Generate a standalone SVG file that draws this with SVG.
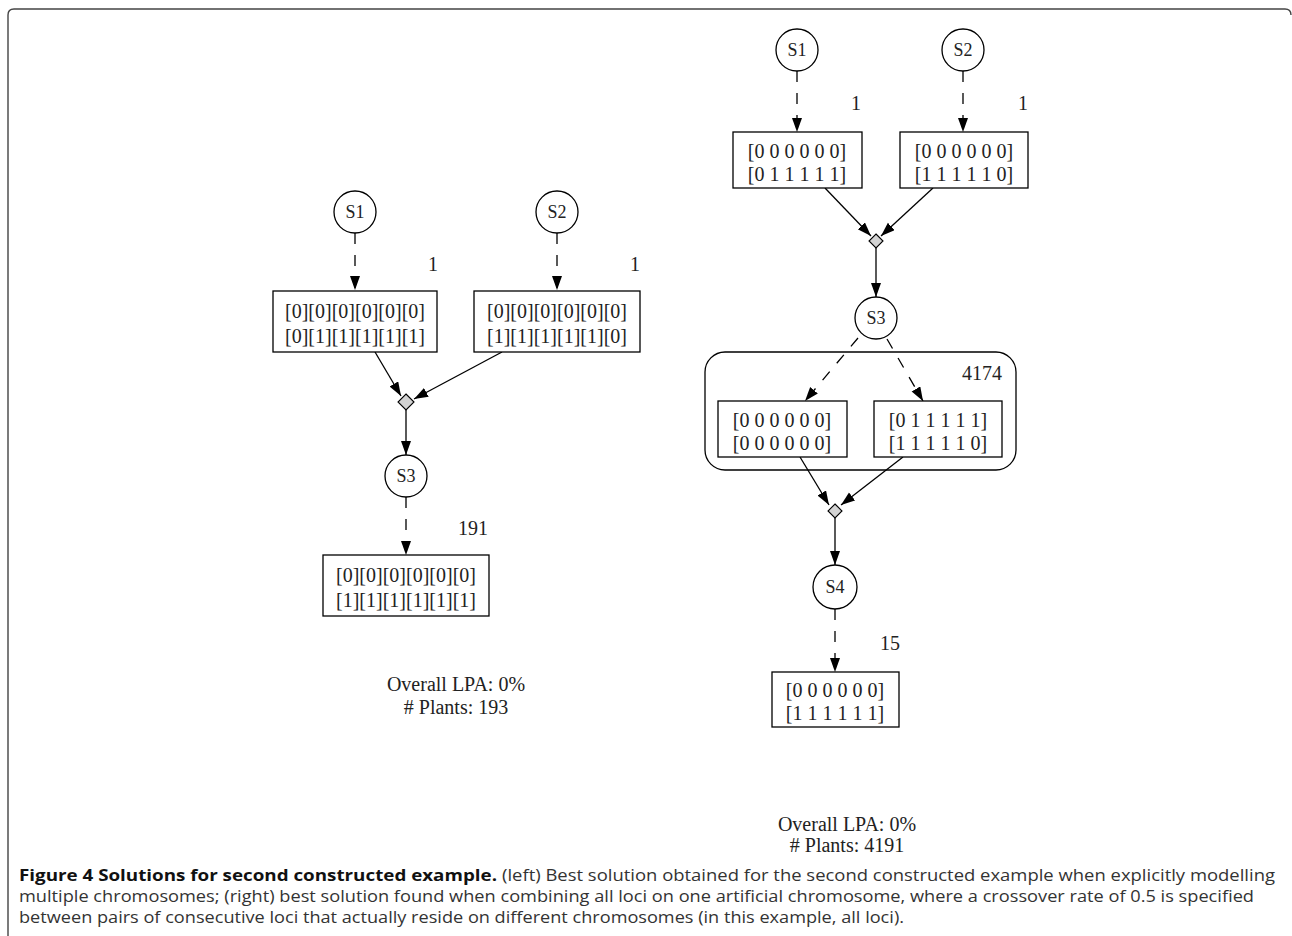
<svg xmlns="http://www.w3.org/2000/svg" width="1292" height="936" viewBox="0 0 1292 936">
<style>
.node circle{fill:#fff;stroke:#000;stroke-width:1.3}
.node rect{fill:#fff;stroke:#000;stroke-width:1.3}
.node polygon{fill:#d3d3d3;stroke:#000;stroke-width:1.1}
.t{font-family:"Liberation Serif","Times New Roman",serif;font-size:20px;fill:#222;text-anchor:middle}
.s{font-family:"Liberation Serif","Times New Roman",serif;font-size:18px;fill:#222;text-anchor:middle}
.e{fill:none;stroke:#000;stroke-width:1.3}
.d{stroke-dasharray:11,11}
.cap{font-family:"Open Sans","Noto Sans",sans-serif;font-size:15.5px;fill:#333}
.capb{font-family:"Open Sans","Noto Sans",sans-serif;font-size:15.5px;font-weight:bold;fill:#111}
</style>
<defs>
<marker id="ah" markerUnits="userSpaceOnUse" markerWidth="15" markerHeight="11" refX="14" refY="5" orient="auto">
<path d="M0,0 L14,5 L0,10 z" fill="#000"/>
</marker>
</defs>
<rect width="1292" height="936" fill="#fff"/>
<path d="M8,936 L8,15 Q8,9 14,9 L1285,9 Q1291,9 1291,15" fill="none" stroke="#444" stroke-width="1.4"/>

<g id="connectors">
<line class="e d" x1="355" y1="233" x2="355" y2="290" marker-end="url(#ah)"/>
<line class="e d" x1="557" y1="233" x2="557" y2="290" marker-end="url(#ah)"/>
<line class="e" x1="375" y1="352" x2="401" y2="396" marker-end="url(#ah)"/>
<line class="e" x1="502" y1="352" x2="414" y2="399" marker-end="url(#ah)"/>
<line class="e" x1="406" y1="410" x2="406" y2="455" marker-end="url(#ah)"/>
<line class="e d" x1="406" y1="497" x2="406" y2="555" marker-end="url(#ah)"/>

<line class="e d" x1="797" y1="71" x2="797" y2="132" marker-end="url(#ah)"/>
<line class="e d" x1="963" y1="71" x2="963" y2="132" marker-end="url(#ah)"/>
<line class="e" x1="825" y1="188" x2="871" y2="236" marker-end="url(#ah)"/>
<line class="e" x1="933" y1="188" x2="881" y2="236" marker-end="url(#ah)"/>
<line class="e" x1="876" y1="248" x2="876" y2="297" marker-end="url(#ah)"/>
<line class="e d" x1="858" y1="338" x2="805" y2="401" marker-end="url(#ah)"/>
<line class="e d" x1="887" y1="339" x2="923" y2="401" marker-end="url(#ah)"/>
<line class="e" x1="800" y1="457" x2="829" y2="505" marker-end="url(#ah)"/>
<line class="e" x1="903" y1="457" x2="841" y2="505" marker-end="url(#ah)"/>
<line class="e" x1="835" y1="518" x2="835" y2="565" marker-end="url(#ah)"/>
<line class="e d" x1="835" y1="609" x2="835" y2="672" marker-end="url(#ah)"/>
</g>

<!-- left solution -->
<g id="L_S1" class="node"><circle cx="355" cy="212" r="21"/><text class="s" x="355" y="218">S1</text></g>
<g id="L_S2" class="node"><circle cx="557" cy="212" r="21"/><text class="s" x="557" y="218">S2</text></g>
<g id="L_B1" class="node"><rect x="273" y="291" width="164" height="61"/><text class="t" x="355" y="318">[0][0][0][0][0][0]</text><text class="t" x="355" y="343">[0][1][1][1][1][1]</text></g>
<g id="L_B2" class="node"><rect x="474" y="291" width="166" height="61"/><text class="t" x="557" y="318">[0][0][0][0][0][0]</text><text class="t" x="557" y="343">[1][1][1][1][1][0]</text></g>
<text class="t" x="433" y="271">1</text>
<text class="t" x="635" y="271">1</text>
<g id="L_X1" class="node"><polygon points="406,394 414,402 406,410 398,402"/></g>
<g id="L_S3" class="node"><circle cx="406" cy="476" r="21"/><text class="s" x="406" y="482">S3</text></g>
<g id="L_B3" class="node"><rect x="323" y="555" width="166" height="61"/><text class="t" x="406" y="582">[0][0][0][0][0][0]</text><text class="t" x="406" y="607">[1][1][1][1][1][1]</text></g>
<text class="t" x="473" y="535">191</text>
<text class="t" x="456" y="691">Overall LPA: 0%</text>
<text class="t" x="456" y="714"># Plants: 193</text>

<!-- right solution -->
<g id="R_S1" class="node"><circle cx="797" cy="50" r="21"/><text class="s" x="797" y="56">S1</text></g>
<g id="R_S2" class="node"><circle cx="963" cy="50" r="21"/><text class="s" x="963" y="56">S2</text></g>
<g id="R_B1" class="node"><rect x="733" y="132" width="129" height="56"/><text class="t" x="797" y="158">[0 0 0 0 0 0]</text><text class="t" x="797" y="181">[0 1 1 1 1 1]</text></g>
<g id="R_B2" class="node"><rect x="900" y="132" width="128" height="56"/><text class="t" x="964" y="158">[0 0 0 0 0 0]</text><text class="t" x="964" y="181">[1 1 1 1 1 0]</text></g>
<text class="t" x="856" y="110">1</text>
<text class="t" x="1023" y="110">1</text>
<g id="R_X1" class="node"><polygon points="876,234 883,241 876,248 869,241"/></g>
<g id="R_S3" class="node"><circle cx="876" cy="318" r="21"/><text class="s" x="876" y="324">S3</text></g>
<g id="R_C1" class="node">
<rect x="705" y="352" width="311" height="118" rx="20" ry="20" style="fill:none"/>
<text class="t" x="982" y="380">4174</text>
</g>
<g id="R_B3" class="node"><rect x="718" y="401" width="129" height="56"/><text class="t" x="782" y="427">[0 0 0 0 0 0]</text><text class="t" x="782" y="450">[0 0 0 0 0 0]</text></g>
<g id="R_B4" class="node"><rect x="874" y="401" width="128" height="56"/><text class="t" x="938" y="427">[0 1 1 1 1 1]</text><text class="t" x="938" y="450">[1 1 1 1 1 0]</text></g>
<g id="R_X2" class="node"><polygon points="835,504 842,511 835,518 828,511"/></g>
<g id="R_S4" class="node"><circle cx="835" cy="587" r="22"/><text class="s" x="835" y="593">S4</text></g>
<g id="R_B5" class="node"><rect x="772" y="672" width="127" height="55"/><text class="t" x="835" y="697">[0 0 0 0 0 0]</text><text class="t" x="835" y="720">[1 1 1 1 1 1]</text></g>
<text class="t" x="890" y="650">15</text>
<text class="t" x="847" y="831">Overall LPA: 0%</text>
<text class="t" x="847" y="852"># Plants: 4191</text>

<!-- caption -->
<text class="capb" x="19" y="881" textLength="478" lengthAdjust="spacingAndGlyphs">Figure 4 Solutions for second constructed example.</text>
<text class="cap" x="502" y="881" textLength="773" lengthAdjust="spacingAndGlyphs">(left) Best solution obtained for the second constructed example when explicitly modelling</text>
<text class="cap" x="19" y="902" textLength="1235" lengthAdjust="spacingAndGlyphs">multiple chromosomes; (right) best solution found when combining all loci on one artificial chromosome, where a crossover rate of 0.5 is specified</text>
<text class="cap" x="19" y="923" textLength="885" lengthAdjust="spacingAndGlyphs">between pairs of consecutive loci that actually reside on different chromosomes (in this example, all loci).</text>
</svg>
